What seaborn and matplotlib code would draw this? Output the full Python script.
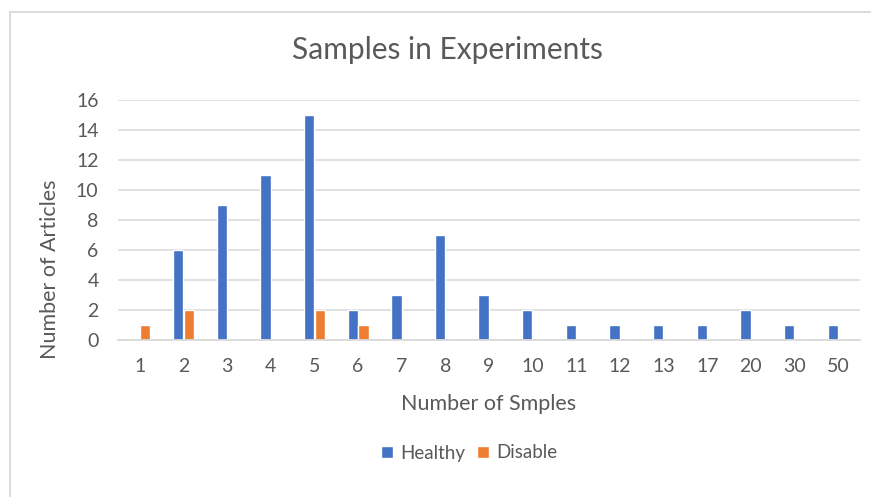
import matplotlib
matplotlib.use("Agg")
import matplotlib.pyplot as plt
from matplotlib.patches import Patch
import pandas as pd
import seaborn as sns

# Number of samples per experiment (category labels on the x axis)
sample_sizes = ["1", "2", "3", "4", "5", "6", "7", "8", "9", "10",
                "11", "12", "13", "17", "20", "30", "50"]
healthy = [0, 6, 9, 11, 15, 2, 3, 7, 3, 2, 1, 1, 1, 1, 2, 1, 1]
disable = [1, 2, 0, 0, 2, 1, 0, 0, 0, 0, 0, 0, 0, 0, 0, 0, 0]
groups = ["Healthy", "Disable"]
y_ticks = [0, 2, 4, 6, 8, 10, 12, 14, 16]

BLUE = "#4472C4"
ORANGE = "#ED7D31"
TEXT = "#595959"
GRID = "#D9D9D9"

df = pd.DataFrame({
    "samples": sample_sizes * 2,
    "articles": healthy + disable,
    "group": [groups[0]] * len(sample_sizes) + [groups[1]] * len(sample_sizes),
})

sns.set_theme(style="white")
plt.rcParams["font.family"] = ["Lato", "DejaVu Sans"]

fig = plt.figure(figsize=(8.71, 4.97), dpi=100)
ax = fig.add_axes([118 / 871, 1 - 340 / 497, (860 - 118) / 871, 240 / 497])

sns.barplot(data=df, x="samples", y="articles", hue="group",
            order=sample_sizes, hue_order=groups,
            palette=[BLUE, ORANGE], width=0.49, gap=0.03,
            saturation=1, legend=False, ax=ax)

ax.set_ylim(0, 16)
ax.set_yticks(y_ticks)
ax.set_xlim(-0.5, len(sample_sizes) - 0.5)
ax.yaxis.grid(True, color=GRID, linewidth=1.1)
ax.set_axisbelow(True)
for side in ["top", "right", "left"]:
    ax.spines[side].set_visible(False)
ax.spines["bottom"].set_color(GRID)
ax.spines["bottom"].set_linewidth(1.3)
ax.tick_params(axis="both", length=0, labelsize=14, labelcolor=TEXT)
ax.tick_params(axis="x", pad=13)
ax.tick_params(axis="y", pad=14)
ax.set_xlabel("")
ax.set_ylabel("")

fig.text(447 / 871, 1 - 50 / 497, "Samples in Experiments",
         ha="center", va="center", fontsize=21.5, color=TEXT)
fig.text(489 / 871, 1 - 404 / 497, "Number of Smples",
         ha="center", va="center", fontsize=15.5, color=TEXT)
fig.text(50 / 871, 1 - 269 / 497, "Number of Articles", rotation=90,
         ha="center", va="center", fontsize=15.5, color=TEXT)

handles = [Patch(facecolor=BLUE, label=groups[0]),
           Patch(facecolor=ORANGE, label=groups[1])]
fig.legend(handles=handles, loc="center", bbox_to_anchor=(469 / 871, 1 - 453 / 497),
           ncol=2, frameon=False, fontsize=13.5, labelcolor=TEXT,
           handlelength=0.65, handleheight=0.65, handletextpad=0.4,
           columnspacing=0.6)

# Chart-area border
fig.add_artist(plt.Line2D([9.5 / 871, 9.5 / 871], [0, 1 - 12 / 497],
                          color=GRID, linewidth=1.3, transform=fig.transFigure))
fig.add_artist(plt.Line2D([9.5 / 871, 1], [1 - 12 / 497, 1 - 12 / 497],
                          color=GRID, linewidth=1.3, transform=fig.transFigure))

fig.savefig("out.png", dpi=100, facecolor="white")
